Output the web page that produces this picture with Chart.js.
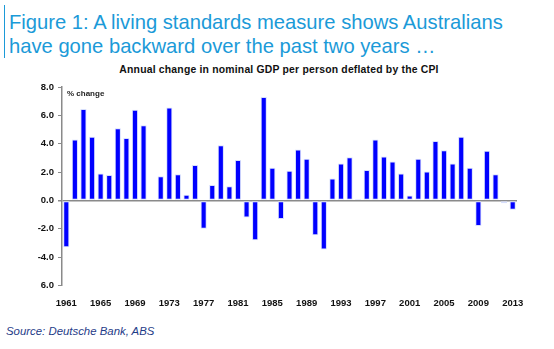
<!DOCTYPE html>
<html>
<head>
<meta charset="utf-8">
<script src="https://cdn.jsdelivr.net/npm/chart.js@4.4.1/dist/chart.umd.min.js"></script>
<style>
  html, body { margin: 0; padding: 0; background: #fff; }
  body { width: 554px; height: 349px; position: relative; overflow: hidden; font-family: "Liberation Sans", Arial, sans-serif; }
  .fig-title { position: absolute; left: 9px; top: 10px; color: #1b9ad8; font-size: 20.2px; line-height: 24px; white-space: nowrap; }
  .fig-bar { position: absolute; left: 4px; top: 5px; width: 1px; height: 53px; background: #1b9ad8; }
  .sub-title { position: absolute; left: 0; width: 558px; top: 64px; text-align: center; font-size: 10.4px; font-weight: bold; color: #111; letter-spacing: 0.2px; }
  .source { position: absolute; left: 6px; top: 325px; font-size: 11.4px; font-style: italic; color: #1f3c88; }
  .chart-box { position: absolute; left: 0; top: 70px; width: 554px; height: 243px; }
</style>
</head>
<body>
<div class="fig-bar"></div>
<div class="fig-title">Figure 1: A living standards measure shows Australians<br>have gone backward over the past two years …</div>
<div class="sub-title">Annual change in nominal GDP per person deflated by the CPI</div>
<div class="chart-box"><canvas id="chart"></canvas></div>
<div class="source">Source: Deutsche Bank, ABS</div>

<script>
// years 1961 - 2013
const years = [];
for (let y = 1961; y <= 2013; y++) years.push(String(y));

// % change, nominal GDP per person deflated by the CPI
const gdpChange = [
  -3.3, 4.3, 6.45, 4.5, 1.9, 1.8, 5.1, 4.4, 6.4, 5.3,
  null, 1.7, 6.55, 1.85, 0.4, 2.5, -2.0, 1.1, 3.9, 1.0,
  2.85, -1.2, -2.8, 7.3, 2.3, -1.3, 2.1, 3.6, 2.95, -2.45,
  -3.45, 1.55, 2.6, 3.05, 0.1, 2.15, 4.3, 3.1, 2.75, 1.9,
  0.35, 2.95, 2.05, 4.2, 3.55, 2.6, 4.5, 2.3, -1.8, 3.5,
  1.85, -0.2, -0.65
];

// y tick labels, bottom to top
const yTickValues = [-6, -4, -2, 0, 2, 4, 6, 8];
const yTickLabels = ["6.0", "-4.0", "-2.0", "0.0", "2.0", "4.0", "6.0", "8.0"];

const axisGrey = "#8a8a8a";
const tickFont = { family: "Liberation Sans, Arial, sans-serif", size: 9.5, weight: "bold" };

// "% change" caption in the top-left of the plot
const unitLabel = {
  id: "unitLabel",
  afterDraw(chart) {
    const { ctx, chartArea } = chart;
    ctx.save();
    ctx.font = "bold 8px Liberation Sans, Arial, sans-serif";
    ctx.fillStyle = "#222";
    ctx.textBaseline = "middle";
    ctx.fillText("% change", chartArea.left + 5, chartArea.top + 7);
    ctx.restore();
  },
};

new Chart(document.getElementById("chart"), {
  type: "bar",
  data: {
    labels: years,
    datasets: [
      {
        data: gdpChange,
        backgroundColor: "#0000ff",
        borderColor: "#d6defc",
        borderWidth: 1,
        borderSkipped: false,
        barPercentage: 0.72,
        categoryPercentage: 1.0,
      },
    ],
  },
  options: {
    responsive: true,
    maintainAspectRatio: false,
    animation: false,
    layout: { padding: { top: 17, right: 37, bottom: 0, left: 0 } },
    plugins: {
      legend: { display: false },
      tooltip: { enabled: false },
    },
    scales: {
      x: {
        offset: true,
        border: { display: false },
        grid: { display: false },
        ticks: {
          autoSkip: false,
          maxRotation: 0,
          color: "#111",
          font: tickFont,
          padding: 4,
          callback: (v, i) => (i % 4 === 0 ? years[i] : ""),
        },
      },
      y: {
        min: -6,
        max: 8,
        afterBuildTicks: (axis) => {
          axis.ticks = yTickValues.map((v) => ({ value: v }));
        },
        afterFit: (axis) => {
          axis.width = 62;
        },
        border: { display: true, color: axisGrey, width: 1.5 },
        grid: {
          drawOnChartArea: true,
          drawTicks: true,
          tickLength: 4,
          color: (c) => (c.tick && c.tick.value === 0 ? axisGrey : "rgba(0,0,0,0)"),
          tickColor: axisGrey,
          lineWidth: (c) => (c.tick && c.tick.value === 0 ? 1.5 : 1),
        },
        ticks: {
          color: "#111",
          font: tickFont,
          padding: 4,
          callback: (v) => yTickLabels[yTickValues.indexOf(v)],
        },
      },
    },
  },
  plugins: [unitLabel],
});
</script>
</body>
</html>
